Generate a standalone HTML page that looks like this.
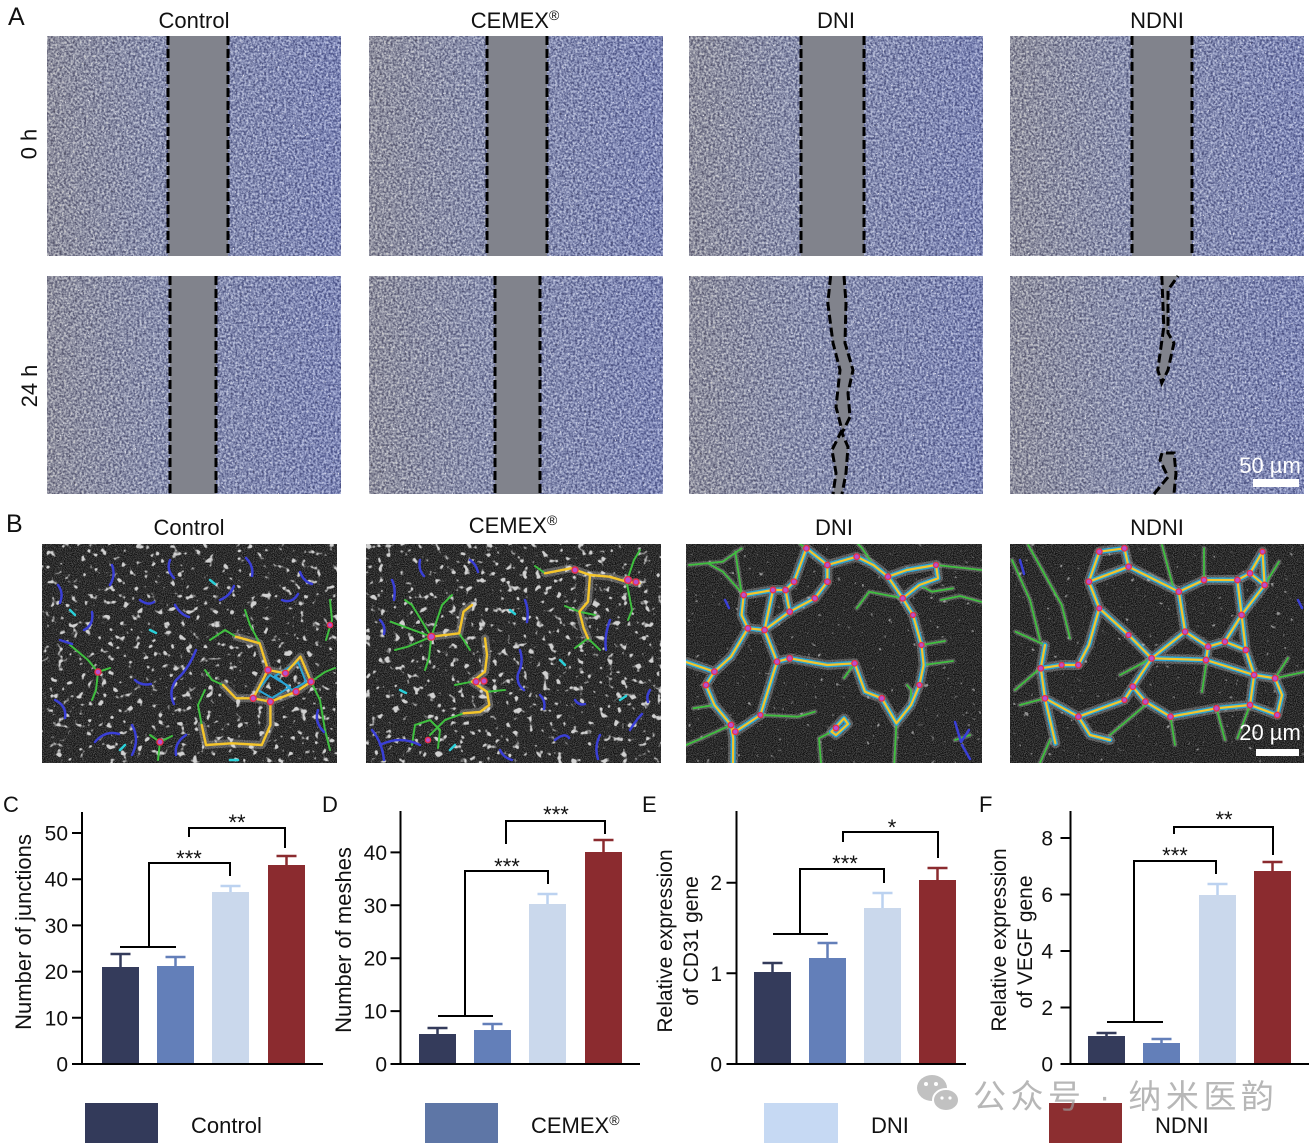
<!DOCTYPE html>
<html><head><meta charset="utf-8"><style>
html,body{margin:0;padding:0;background:#fff;}
svg{display:block;}
</style></head><body>
<svg width="1313" height="1148" viewBox="0 0 1313 1148" xmlns="http://www.w3.org/2000/svg" font-family="'Liberation Sans', Arial, sans-serif">
<defs>
 <linearGradient id="gA" x1="0" x2="1" y1="0" y2="0">
  <stop offset="0" stop-color="#a09b94"/><stop offset="0.4" stop-color="#969bb1"/><stop offset="1" stop-color="#838cbf"/>
 </linearGradient>
 <filter id="nA" x="0" y="0" width="1" height="1" color-interpolation-filters="sRGB">
  <feTurbulence type="fractalNoise" baseFrequency="0.45" numOctaves="2" seed="3"/>
  <feColorMatrix type="matrix" values="2.0 0 0 0 -0.55 2.0 0 0 0 -0.52 1.7 0 0 0 -0.2 0 0 0 0 0.45"/>
 </filter>
 <filter id="nA2" x="0" y="0" width="1" height="1" color-interpolation-filters="sRGB">
  <feTurbulence type="fractalNoise" baseFrequency="0.6" numOctaves="1" seed="9"/>
  <feColorMatrix type="matrix" values="0 0 0 0 0.95 0 0 0 0 0.95 0 0 0 0 0.97 7 0 0 0 -4.6"/>
 </filter>
 <filter id="grain" x="0" y="0" width="1" height="1" color-interpolation-filters="sRGB">
  <feTurbulence type="fractalNoise" baseFrequency="1.1" numOctaves="1" seed="5"/>
  <feColorMatrix type="matrix" values="1.3 0 0 0 -0.4 1.3 0 0 0 -0.4 1.3 0 0 0 -0.4 0 0 0 0 0.55"/>
 </filter>
 <filter id="blob1" x="0" y="0" width="1" height="1" color-interpolation-filters="sRGB">
  <feTurbulence type="fractalNoise" baseFrequency="0.14" numOctaves="2" seed="11"/>
  <feColorMatrix type="matrix" values="0 0 0 0 0.82 0 0 0 0 0.82 0 0 0 0 0.82 9 0 0 0 -5.65"/>
 </filter>
 <filter id="blob2" x="0" y="0" width="1" height="1" color-interpolation-filters="sRGB">
  <feTurbulence type="fractalNoise" baseFrequency="0.14" numOctaves="2" seed="23"/>
  <feColorMatrix type="matrix" values="0 0 0 0 0.82 0 0 0 0 0.82 0 0 0 0 0.82 9 0 0 0 -5.65"/>
 </filter>
 <filter id="blob3" x="0" y="0" width="1" height="1" color-interpolation-filters="sRGB">
  <feTurbulence type="fractalNoise" baseFrequency="0.17" numOctaves="2" seed="37"/>
  <feColorMatrix type="matrix" values="0 0 0 0 0.85 0 0 0 0 0.85 0 0 0 0 0.85 9 0 0 0 -6.6"/>
 </filter>

 <path id="dniY" d="M827.4,565 L856.7,556.7 L873.4,565 L888,576.7 L902.7,598.3 L913,615 L921.5,645 L923.6,665 L919.4,685 L911,705 L896.4,723.3
 M888,576.7 L906.9,570 L936,565 L938,578.3 L919.4,585 L902.7,598.3
 M785.5,590 L794,581.7 L806.4,548.3 L827.4,565 L827.4,581.7 L814.8,598.3 L789.7,611.7
 M785.5,590 L773,590 L743.7,595 L741.6,615 L747.9,628.3 L764.6,630 L789.7,611.7 L785.5,590
 M747.9,628.3 L731,656.7 L714.4,671.7 L706,685 L714.4,705 L731,725 L733.2,738.3 L733,763
 M764.6,630 L777,661.7 L789.7,658.3 L827.4,665 L854.6,663.3
 M777,661.7 L760.4,715 L735.3,731.7 L731,725
 M854.6,663.3 L865,691.7 L881.8,698.3 L896.4,723.3
 M714.4,671.7 L686,662 M773,590 L764.6,630
 M831.5,731.7 L844,718.3 L848,724 L836,735 Z"/>
 <path id="dniG" d="M743.7,595 L722.8,571.7 L708,563.3 M689,565 L722.8,561.7 L741.6,548.3 M735.3,551.7 L741.6,593.3
 M936,565 L982,570 M919.4,585 L932,591.7 L952.9,588.3 M902.7,598.3 L869.2,591.7 L856.7,608.3
 M921.5,645 L945,641 M923.6,665 L953,661 M896.4,723.3 L894.3,763 M911,705 L911,690 L907,685
 M854.6,663.3 L844,678 M831.5,731.7 L819,738.3 L821,763 M731,725 L701.8,738.3 L686,745
 M760.4,715 L798,716.7 L814.8,711.7 M714.4,705 L693.5,708.3 M873.4,565 L862,548 L858,544
 M806.4,548.3 L800,544 M941,600 L960,596 L982,602 M955,740 L970,735"/>

 <path id="ndY" d="M1099.3,551.7 L1124.4,548.3 L1128.6,566.7 L1088.9,581.7 Z
 M1088.9,581.7 L1099.3,608.3 L1128.6,635 L1151.6,658.3 L1132.8,686.7 L1145.4,701.7 L1170.5,716.7 L1216.5,708.3 L1250,705 L1277.2,715
 M1128.6,566.7 L1178.8,591.7 L1204,580 L1237.4,580 L1250,573.3 L1262.5,551.7 L1264.6,585 L1250,573.3
 M1264.6,585 L1241.6,615 L1237.4,580
 M1178.8,591.7 L1185.1,631.7 L1208.1,646.7 L1224.9,641.7 L1241.6,615 L1245.8,650 L1224.9,641.7
 M1245.8,650 L1254.1,675 L1275.1,678.3 L1282,695 L1277.2,715
 M1185.1,631.7 L1151.6,658.3 L1206,660 L1254.1,675 L1250,705
 M1208.1,646.7 L1206,660
 M1078.4,665 L1061.7,665 L1040.8,668.3 L1045,698.3 L1078.4,716.7 L1124.4,700 L1132.8,686.7
 M1078.4,665 L1088.9,645 L1099.3,608.3
 M1040.8,668.3 L1045,645 M1045,698.3 L1055.4,743.3 M1078.4,716.7 L1090,735 L1110,740"/>
 <path id="ndG" d="M1028.2,545 L1061.7,605 L1070,638.3 M1015.6,631.7 L1045,645 M1149.5,575 L1178.8,591.7
 M1162,545 L1174,590 M1204,548.3 L1204,580 M1279,561.7 L1264.6,585 M1206,665 L1202,692
 M1275.1,678.3 L1304,672 M1120,675 L1151.6,658.3 M1110,735 L1145.4,705 M1237.4,738.3 L1250,705
 M1288,658 L1275.1,678.3 M1020,705 L1045,698.3 M1012,560 L1030,600 L1040,640 M1040,668.3 L1015,690
 M1050,740 L1040,763 M1170.5,716.7 L1175,745 M1216.5,708.3 L1225,740"/>
</defs>

<!-- ================= Panel A ================= -->
<text x="8" y="25" font-size="25" fill="#111">A</text>
<text x="194" y="28" font-size="22" text-anchor="middle" fill="#111">Control</text>
<text x="515" y="28" font-size="22" text-anchor="middle" fill="#111">CEMEX<tspan font-size="14" dy="-8">®</tspan></text>
<text x="836" y="28" font-size="22" text-anchor="middle" fill="#111">DNI</text>
<text x="1157" y="28" font-size="22" text-anchor="middle" fill="#111">NDNI</text>
<text transform="translate(36.5,144) rotate(-90)" font-size="22" text-anchor="middle" fill="#111">0 h</text>
<text transform="translate(37,386) rotate(-90)" font-size="22" text-anchor="middle" fill="#111">24 h</text>

<g>
 <rect x="47" y="36" width="294" height="220" fill="url(#gA)"/><rect x="47" y="36" width="294" height="220" filter="url(#nA)"/><rect x="47" y="36" width="294" height="220" filter="url(#nA2)"/>
 <rect x="369" y="36" width="294" height="220" fill="url(#gA)"/><rect x="369" y="36" width="294" height="220" filter="url(#nA)"/><rect x="369" y="36" width="294" height="220" filter="url(#nA2)"/>
 <rect x="689" y="36" width="294" height="220" fill="url(#gA)"/><rect x="689" y="36" width="294" height="220" filter="url(#nA)"/><rect x="689" y="36" width="294" height="220" filter="url(#nA2)"/>
 <rect x="1010" y="36" width="294" height="220" fill="url(#gA)"/><rect x="1010" y="36" width="294" height="220" filter="url(#nA)"/><rect x="1010" y="36" width="294" height="220" filter="url(#nA2)"/>
 <rect x="47" y="276" width="294" height="218" fill="url(#gA)"/><rect x="47" y="276" width="294" height="218" filter="url(#nA)"/><rect x="47" y="276" width="294" height="218" filter="url(#nA2)"/>
 <rect x="369" y="276" width="294" height="218" fill="url(#gA)"/><rect x="369" y="276" width="294" height="218" filter="url(#nA)"/><rect x="369" y="276" width="294" height="218" filter="url(#nA2)"/>
 <rect x="689" y="276" width="294" height="218" fill="url(#gA)"/><rect x="689" y="276" width="294" height="218" filter="url(#nA)"/><rect x="689" y="276" width="294" height="218" filter="url(#nA2)"/>
 <rect x="1010" y="276" width="294" height="218" fill="url(#gA)"/><rect x="1010" y="276" width="294" height="218" filter="url(#nA)"/><rect x="1010" y="276" width="294" height="218" filter="url(#nA2)"/>
</g>
<g fill="#81838c">
 <rect x="168" y="36" width="60" height="220"/>
 <rect x="487" y="36" width="60" height="220"/>
 <rect x="801" y="36" width="63" height="220"/>
 <rect x="1132" y="36" width="60" height="220"/>
 <rect x="170" y="276" width="46" height="218"/>
 <rect x="495" y="276" width="45" height="218"/>
 <polygon points="830.6,276 827.8,303 833,343 840,370 836,407 842,430 832,450 836,473 833,494 842,494 846,473 848,447 842,433 850,417 848,393 853,370 845,343 846,303 844,276"/>
 <polygon points="1161.8,276 1163.8,327 1157.7,370 1161.8,383 1168,370 1174,343 1168,333 1168,290 1178,276"/>
 <polygon points="1162,453 1174,453 1176,473 1174,494 1154,494 1168,477 1160,460"/>
</g>
<g stroke="#000" stroke-width="3" stroke-dasharray="9 4" fill="none">
 <line x1="168" y1="36" x2="168" y2="256"/><line x1="228" y1="36" x2="228" y2="256"/>
 <line x1="487" y1="36" x2="487" y2="256"/><line x1="547" y1="36" x2="547" y2="256"/>
 <line x1="801" y1="36" x2="801" y2="256"/><line x1="864" y1="36" x2="864" y2="256"/>
 <line x1="1132" y1="36" x2="1132" y2="256"/><line x1="1192" y1="36" x2="1192" y2="256"/>
 <line x1="170" y1="276" x2="170" y2="494"/><line x1="216" y1="276" x2="216" y2="494"/>
 <line x1="495" y1="276" x2="495" y2="494"/><line x1="540" y1="276" x2="540" y2="494"/>
 <polyline points="830.6,276 827.8,303 833,343 840,370 836,407 842,430 832,450 836,473 833,494"/>
 <polyline points="844,276 846,303 845,343 853,370 848,393 850,417 842,433 848,447 846,473 842,494"/>
 <polyline points="1161.8,276 1163.8,327 1157.7,370 1161.8,383 1168,370 1174,343 1168,333 1168,290 1178,276"/>
 <polyline points="1154,494 1168,477 1160,460 1162,453 1174,453 1176,473 1174,494"/>
</g>
<text x="1270" y="473" font-size="22" text-anchor="middle" fill="#fff">50 µm</text>
<rect x="1253" y="479" width="46" height="8" fill="#fff"/>

<!-- ================= Panel B ================= -->
<text x="6" y="532" font-size="25" fill="#111">B</text>
<text x="189" y="535" font-size="22" text-anchor="middle" fill="#111">Control</text>
<text x="513" y="533" font-size="22" text-anchor="middle" fill="#111">CEMEX<tspan font-size="14" dy="-8">®</tspan></text>
<text x="834" y="535" font-size="22" text-anchor="middle" fill="#111">DNI</text>
<text x="1157" y="535" font-size="22" text-anchor="middle" fill="#111">NDNI</text>

<!-- Control B -->
<svg x="42" y="544" width="295" height="219" viewBox="42 544 295 219" overflow="hidden">
 <rect x="42" y="544" width="295" height="219" fill="#161616"/>
 <rect x="42" y="544" width="295" height="219" filter="url(#grain)"/>
 <rect x="42" y="544" width="295" height="219" filter="url(#blob1)"/>
 <g fill="none" stroke-linecap="round" stroke-linejoin="round">
  <path stroke="#ddd" stroke-opacity="0.3" stroke-width="8" d="M236,636.7 L259.7,643.3 L268,670 M268,670 L285.4,673.3 L300.4,656.7 L311,681.7 L296,691.7 L270.4,701.7 L253.2,698.3 L268,670 M270.4,701.7 L270.4,725 L261.8,745 L231.8,743.3 L206,745 L201.7,725 M253.2,698.3 L236,698.3 L223,685"/>
  <path stroke="#3fbf3f" stroke-width="2" d="M236,636.7 L225,630 L210,640 M259.7,643.3 L250,625 L245,610 M98,672 L88,660 L70,645 M98,672 L110,668 M98,672 L96,690 L92,700 M311,681.7 L325,672 L335,668 M311,681.7 L320,700 L325,730 L330,750 M201.7,725 L198,705 L205,690 M223,685 L212,680 L205,670 M160,742 L150,735 M160,742 L172,736 M160,742 L158,760 M330,600 L332,620 L326,640"/>
  <path stroke="#3a3fd6" stroke-width="2.5" d="M58,585 q6,8 2,18 M84,630 q10,-5 8,-18 M112,565 q4,10 -2,20 M140,600 q8,6 14,2 M175,605 q6,10 14,12 M196,650 q-8,20 -20,30 q-8,12 -2,24 M95,742 q10,-12 24,-8 M132,725 q8,14 0,30 M176,755 q-2,-12 10,-20 M246,558 q8,8 6,18 M300,572 q4,10 12,12 M55,700 q12,6 10,18 M282,600 q10,4 16,-6 M318,710 q-4,12 6,22 M135,680 q6,6 16,4 M220,600 q10,-4 14,-14 M170,560 q-4,10 4,18 M60,640 l12,4"/>
  <path stroke="#2bd0d8" stroke-width="2.5" d="M150,630 l6,3 M70,610 l5,5 M230,760 l8,0 M120,750 l5,-5 M210,580 l5,4"/>
  <path stroke="#2aa5d6" stroke-width="2" d="M275,676 L298,662 L306,682 L292,690 Z M258,690 L270,675 L290,687 L272,698 Z"/>
  <path stroke="#f5c52a" stroke-width="2.4" d="M236,636.7 L259.7,643.3 L268,670 M268,670 L285.4,673.3 L300.4,656.7 L311,681.7 L296,691.7 L270.4,701.7 L253.2,698.3 L268,670 M270.4,701.7 L270.4,725 L261.8,745 L231.8,743.3 L206,745 L201.7,725 M253.2,698.3 L236,698.3 L223,685"/>
 </g>
 <g fill="#b84fd0" stroke="#e8304a" stroke-width="1.4">
  <circle cx="268" cy="670" r="3"/><circle cx="285.4" cy="673.3" r="3"/><circle cx="296" cy="691.7" r="3"/><circle cx="270.4" cy="701.7" r="3"/><circle cx="253.2" cy="698.3" r="3"/><circle cx="311" cy="681.7" r="3"/><circle cx="98" cy="672" r="3"/><circle cx="160" cy="742" r="3"/><circle cx="330" cy="625" r="2.6"/>
 </g>
</svg>

<!-- CEMEX B -->
<svg x="366" y="544" width="295" height="219" viewBox="366 544 295 219" overflow="hidden">
 <rect x="366" y="544" width="295" height="219" fill="#161616"/>
 <rect x="366" y="544" width="295" height="219" filter="url(#grain)"/>
 <rect x="366" y="544" width="295" height="219" filter="url(#blob2)"/>
 <g fill="none" stroke-linecap="round" stroke-linejoin="round">
  <path stroke="#ddd" stroke-opacity="0.3" stroke-width="8" d="M545,573.3 L570.8,568.3 L590,575 L609.4,576.7 L626.6,581.7 L639.5,583.3 M590,575 L588,601.7 L579.4,611.7 L583.7,628.3 L588,638.3 M431.3,636.7 L459.2,633.3 L463.5,611.7 L472,605 M485,638.3 L487,655 L485,671.7 L472,681.7 L487,691.7 L489.3,705 L480,712 L463.5,713.3"/>
  <path stroke="#3fbf3f" stroke-width="2" d="M431.3,636.7 L407.7,646.7 L395,650 M431.3,636.7 L390.6,621.7 M431.3,636.7 L412,605 L405,600 M431.3,636.7 L442,605 L452,595 M431.3,636.7 L429,658 L425,670 M459.2,633.3 L470,650 M545,573.3 L535,566 M588,638.3 L600,650 M588,638.3 L575,648 M579.4,611.7 L565,606 M579.4,611.7 L595,615 M626.6,581.7 L634,560 L640,550 M626.6,581.7 L632,610 L628,620 M463.5,713.3 L445,720 L430,735 M472,681.7 L455,685 M487,691.7 L505,690 M412,745 L415,725 L430,720 L440,730 L438,748"/>
  <path stroke="#3a3fd6" stroke-width="2.5" d="M372,730 q10,12 12,30 M380,745 q20,-10 40,0 M392,580 q4,8 2,20 M380,620 q6,6 4,14 M520,650 q4,12 -2,24 q-2,10 6,16 M525,600 q4,10 2,22 M540,695 q6,6 4,14 M555,740 q10,-8 14,-2 M610,620 q-6,16 -4,30 M630,730 q6,-10 12,-16 M650,690 q-4,6 -2,12 M575,700 q4,6 10,4 M500,750 q4,8 12,10 M470,560 q6,4 8,12 M420,560 q-2,10 4,16 M600,735 q-6,12 -2,24"/>
  <path stroke="#2bd0d8" stroke-width="2.5" d="M400,690 l6,3 M560,660 l5,5 M620,700 l6,-4 M450,750 l5,-5 M510,610 l5,4"/>
  <path stroke="#f5c52a" stroke-width="2.4" d="M545,573.3 L570.8,568.3 L590,575 L609.4,576.7 L626.6,581.7 L639.5,583.3 M590,575 L588,601.7 L579.4,611.7 L583.7,628.3 L588,638.3 M431.3,636.7 L459.2,633.3 L463.5,611.7 L472,605 M485,638.3 L487,655 L485,671.7 L472,681.7 L487,691.7 L489.3,705 L480,712 L463.5,713.3"/>
 </g>
 <g fill="#b84fd0" stroke="#e8304a" stroke-width="1.4">
  <circle cx="431.3" cy="636.7" r="3.4"/><circle cx="575" cy="570" r="3"/><circle cx="628" cy="580" r="3.4"/><circle cx="636" cy="582" r="3"/><circle cx="476" cy="681.7" r="3"/><circle cx="484" cy="681" r="3"/><circle cx="428" cy="740" r="2.6"/>
 </g>
</svg>

<!-- DNI B -->
<svg x="686" y="544" width="296" height="219" viewBox="686 544 296 219" overflow="hidden">
 <rect x="686" y="544" width="296" height="219" fill="#141414"/>
 <rect x="686" y="544" width="296" height="219" filter="url(#grain)"/>
 <rect x="686" y="544" width="296" height="219" filter="url(#blob3)" opacity="0.6"/>
 <g fill="none" stroke-linecap="round" stroke-linejoin="round">
  <use href="#dniY" stroke="#e0e0e0" stroke-opacity="0.28" stroke-width="10"/>
  <use href="#dniG" stroke="#e0e0e0" stroke-opacity="0.25" stroke-width="5"/>
  <use href="#dniG" stroke="#3fbf3f" stroke-width="1.8"/>
  <use href="#dniY" stroke="#2aa5d6" stroke-width="5"/>
  <use href="#dniY" stroke="#f5c52a" stroke-width="2.2"/>
  <path stroke="#3a3fd6" stroke-width="2.5" d="M955,722 l6,20 l8,-12 M962,745 l8,14 M725,600 l4,8"/>
 </g>
 <g fill="#b84fd0" stroke="#e8304a" stroke-width="1.3">
  <circle cx="827.4" cy="565" r="2.8"/><circle cx="856.7" cy="556.7" r="2.8"/><circle cx="888" cy="576.7" r="2.8"/><circle cx="902.7" cy="598.3" r="2.8"/><circle cx="785.5" cy="590" r="2.8"/><circle cx="794" cy="581.7" r="2.8"/><circle cx="806.4" cy="548.3" r="2.8"/><circle cx="827.4" cy="581.7" r="2.8"/><circle cx="814.8" cy="598.3" r="2.8"/><circle cx="789.7" cy="611.7" r="2.8"/><circle cx="773" cy="590" r="2.8"/><circle cx="743.7" cy="595" r="2.8"/><circle cx="747.9" cy="628.3" r="2.8"/><circle cx="764.6" cy="630" r="2.8"/><circle cx="714.4" cy="671.7" r="2.8"/><circle cx="706" cy="685" r="2.8"/><circle cx="731" cy="725" r="2.8"/><circle cx="777" cy="661.7" r="2.8"/><circle cx="789.7" cy="658.3" r="2.8"/><circle cx="854.6" cy="663.3" r="2.8"/><circle cx="881.8" cy="698.3" r="2.8"/><circle cx="913" cy="615" r="2.5"/><circle cx="921.5" cy="645" r="2.5"/><circle cx="919.4" cy="685" r="2.5"/><circle cx="836" cy="728" r="2.8"/><circle cx="735.3" cy="731.7" r="2.8"/><circle cx="760.4" cy="715" r="2.5"/><circle cx="936" cy="565" r="2.5"/>
 </g>
</svg>

<!-- NDNI B -->
<svg x="1010" y="544" width="294" height="219" viewBox="1010 544 294 219" overflow="hidden">
 <rect x="1010" y="544" width="294" height="219" fill="#141414"/>
 <rect x="1010" y="544" width="294" height="219" filter="url(#grain)"/>
 <rect x="1010" y="544" width="294" height="219" filter="url(#blob3)" opacity="0.6"/>
 <g fill="none" stroke-linecap="round" stroke-linejoin="round">
  <use href="#ndY" stroke="#e0e0e0" stroke-opacity="0.28" stroke-width="10"/>
  <use href="#ndG" stroke="#e0e0e0" stroke-opacity="0.25" stroke-width="5"/>
  <use href="#ndG" stroke="#3fbf3f" stroke-width="1.8"/>
  <use href="#ndY" stroke="#2aa5d6" stroke-width="5"/>
  <use href="#ndY" stroke="#f5c52a" stroke-width="2.2"/>
  <path stroke="#3a3fd6" stroke-width="2.5" d="M1020,560 l4,14 M1298,600 l4,8"/>
 </g>
 <g fill="#b84fd0" stroke="#e8304a" stroke-width="1.3">
  <circle cx="1099.3" cy="551.7" r="2.8"/><circle cx="1124.4" cy="548.3" r="2.8"/><circle cx="1128.6" cy="566.7" r="2.8"/><circle cx="1088.9" cy="581.7" r="2.8"/><circle cx="1178.8" cy="591.7" r="2.8"/><circle cx="1204" cy="580" r="2.8"/><circle cx="1237.4" cy="580" r="2.8"/><circle cx="1250" cy="573.3" r="2.8"/><circle cx="1262.5" cy="551.7" r="2.5"/><circle cx="1264.6" cy="585" r="2.8"/><circle cx="1241.6" cy="615" r="2.8"/><circle cx="1185.1" cy="631.7" r="2.8"/><circle cx="1208.1" cy="646.7" r="2.8"/><circle cx="1224.9" cy="641.7" r="2.8"/><circle cx="1245.8" cy="650" r="2.8"/><circle cx="1151.6" cy="658.3" r="2.8"/><circle cx="1206" cy="660" r="2.8"/><circle cx="1254.1" cy="675" r="2.8"/><circle cx="1275.1" cy="678.3" r="2.8"/><circle cx="1132.8" cy="686.7" r="2.8"/><circle cx="1145.4" cy="701.7" r="2.8"/><circle cx="1170.5" cy="716.7" r="2.8"/><circle cx="1216.5" cy="708.3" r="2.8"/><circle cx="1250" cy="705" r="2.8"/><circle cx="1277.2" cy="715" r="2.8"/><circle cx="1099.3" cy="608.3" r="2.5"/><circle cx="1128.6" cy="635" r="2.5"/><circle cx="1078.4" cy="665" r="2.8"/><circle cx="1061.7" cy="665" r="2.5"/><circle cx="1040.8" cy="668.3" r="2.8"/><circle cx="1045" cy="698.3" r="2.8"/><circle cx="1078.4" cy="716.7" r="2.8"/><circle cx="1124.4" cy="700" r="2.5"/>
 </g>
 <text x="1270" y="740" font-size="22" text-anchor="middle" fill="#fff">20 µm</text>
 <rect x="1256" y="749" width="43" height="7" fill="#fff"/>
</svg>

<!-- ================= Charts ================= -->
<g font-size="22" fill="#111">
 <text x="3" y="812">C</text>
 <text x="322" y="812">D</text>
 <text x="642" y="812">E</text>
 <text x="979" y="812">F</text>
</g>

<!-- Chart C -->
<g>
 <rect x="102" y="967" width="37" height="97" fill="#343b5b"/>
 <rect x="157" y="966" width="37" height="98" fill="#637fb9"/>
 <rect x="212" y="892" width="37" height="172" fill="#cad8ec"/>
 <rect x="268" y="865" width="37" height="199" fill="#8b2b2f"/>
 <g stroke-width="2.5" fill="none">
  <path stroke="#343b5b" d="M120.5,967 V954 M110.5,954 H130.5"/>
  <path stroke="#637fb9" d="M175.5,966 V957 M165.5,957 H185.5"/>
  <path stroke="#bcd2f0" d="M230.5,892 V886 M220.5,886 H240.5"/>
  <path stroke="#8b2b2f" d="M286.5,865 V856 M276.5,856 H296.5"/>
 </g>
 <g stroke="#000" stroke-width="2" fill="none">
  <path d="M82,812 V1065 M81,1064 H323"/>
  <path d="M72,1064 H82 M72,1017.8 H82 M72,971.6 H82 M72,925.4 H82 M72,879.2 H82 M72,833 H82"/>
  <path d="M120,947 H176 M149,947 V863 H230 V876"/>
  <path d="M189,837 V828 H285 V848"/>
 </g>
 <g font-size="21" text-anchor="end" fill="#111">
  <text x="68" y="1071.5">0</text><text x="68" y="1025.3">10</text><text x="68" y="979.1">20</text><text x="68" y="932.9">30</text><text x="68" y="886.7">40</text><text x="68" y="840.5">50</text>
 </g>
 <g font-size="22" text-anchor="middle" fill="#111">
  <text x="189" y="866">***</text><text x="237" y="830">**</text>
 </g>
 <text transform="translate(31,932) rotate(-90)" font-size="22" text-anchor="middle" fill="#111">Number of junctions</text>
</g>

<!-- Chart D -->
<g>
 <rect x="419" y="1034" width="37" height="30" fill="#343b5b"/>
 <rect x="474" y="1030" width="37" height="34" fill="#637fb9"/>
 <rect x="529" y="904" width="37" height="160" fill="#cad8ec"/>
 <rect x="585" y="852" width="37" height="212" fill="#8b2b2f"/>
 <g stroke-width="2.5" fill="none">
  <path stroke="#343b5b" d="M437.5,1034 V1028 M427.5,1028 H447.5"/>
  <path stroke="#637fb9" d="M492.5,1030 V1024 M482.5,1024 H502.5"/>
  <path stroke="#bcd2f0" d="M547.5,904 V894 M537.5,894 H557.5"/>
  <path stroke="#8b2b2f" d="M603.5,852 V840 M593.5,840 H613.5"/>
 </g>
 <g stroke="#000" stroke-width="2" fill="none">
  <path d="M400.5,811 V1065 M399.5,1064 H640"/>
  <path d="M390.5,1064 H400.5 M390.5,1011.1 H400.5 M390.5,958.2 H400.5 M390.5,905.3 H400.5 M390.5,852.4 H400.5"/>
  <path d="M438,1016 H493 M465,1016 V871 H548 V884"/>
  <path d="M506,844 V821 H605 V834"/>
 </g>
 <g font-size="21" text-anchor="end" fill="#111">
  <text x="387" y="1071.5">0</text><text x="387" y="1018.6">10</text><text x="387" y="965.7">20</text><text x="387" y="912.8">30</text><text x="387" y="859.9">40</text>
 </g>
 <g font-size="22" text-anchor="middle" fill="#111">
  <text x="507" y="874">***</text><text x="556" y="822">***</text>
 </g>
 <text transform="translate(351,940) rotate(-90)" font-size="22" text-anchor="middle" fill="#111">Number of meshes</text>
</g>

<!-- Chart E -->
<g>
 <rect x="754" y="972" width="37" height="92" fill="#343b5b"/>
 <rect x="809" y="958" width="37" height="106" fill="#637fb9"/>
 <rect x="864" y="908" width="37" height="156" fill="#cad8ec"/>
 <rect x="919" y="880" width="37" height="184" fill="#8b2b2f"/>
 <g stroke-width="2.5" fill="none">
  <path stroke="#343b5b" d="M772.5,972 V963 M762.5,963 H782.5"/>
  <path stroke="#637fb9" d="M827.5,958 V943 M817.5,943 H837.5"/>
  <path stroke="#bcd2f0" d="M882.5,908 V893 M872.5,893 H892.5"/>
  <path stroke="#8b2b2f" d="M937.5,880 V868 M927.5,868 H947.5"/>
 </g>
 <g stroke="#000" stroke-width="2" fill="none">
  <path d="M736.5,811 V1065 M735.5,1064 H966"/>
  <path d="M726.5,1064 H736.5 M726.5,973.3 H736.5 M726.5,882.7 H736.5"/>
  <path d="M773,934 H828 M800,934 V869 H884 V883"/>
  <path d="M843,842 V832 H938 V858"/>
 </g>
 <g font-size="21" text-anchor="end" fill="#111">
  <text x="722" y="1071.5">0</text><text x="722" y="980.8">1</text><text x="722" y="890.2">2</text>
 </g>
 <g font-size="22" text-anchor="middle" fill="#111">
  <text x="845" y="871">***</text><text x="892" y="835">*</text>
 </g>
 <text transform="translate(672,941) rotate(-90)" font-size="21" text-anchor="middle" fill="#111">Relative expression</text>
 <text transform="translate(698,941) rotate(-90)" font-size="21" text-anchor="middle" fill="#111">of CD31 gene</text>
</g>

<!-- Chart F -->
<g>
 <rect x="1088" y="1036" width="37" height="28" fill="#343b5b"/>
 <rect x="1143" y="1043" width="37" height="21" fill="#637fb9"/>
 <rect x="1199" y="895" width="37" height="169" fill="#cad8ec"/>
 <rect x="1254" y="871" width="37" height="193" fill="#8b2b2f"/>
 <g stroke-width="2.5" fill="none">
  <path stroke="#343b5b" d="M1106.5,1036 V1033 M1096.5,1033 H1116.5"/>
  <path stroke="#637fb9" d="M1161.5,1043 V1039 M1151.5,1039 H1171.5"/>
  <path stroke="#bcd2f0" d="M1217.5,895 V884 M1207.5,884 H1227.5"/>
  <path stroke="#8b2b2f" d="M1272.5,871 V862 M1262.5,862 H1282.5"/>
 </g>
 <g stroke="#000" stroke-width="2" fill="none">
  <path d="M1070.5,811 V1065 M1069.5,1064 H1309"/>
  <path d="M1060.5,1064 H1070.5 M1060.5,1007.5 H1070.5 M1060.5,951 H1070.5 M1060.5,894.5 H1070.5 M1060.5,838 H1070.5"/>
  <path d="M1107,1022 H1163 M1134,1022 V861 H1216 V874"/>
  <path d="M1174,834 V827 H1273 V855"/>
 </g>
 <g font-size="21" text-anchor="end" fill="#111">
  <text x="1053" y="1071.5">0</text><text x="1053" y="1015">2</text><text x="1053" y="958.5">4</text><text x="1053" y="902">6</text><text x="1053" y="845.5">8</text>
 </g>
 <g font-size="22" text-anchor="middle" fill="#111">
  <text x="1175" y="863">***</text><text x="1224" y="827">**</text>
 </g>
 <text transform="translate(1006,940) rotate(-90)" font-size="21" text-anchor="middle" fill="#111">Relative expression</text>
 <text transform="translate(1032,942) rotate(-90)" font-size="21" text-anchor="middle" fill="#111">of VEGF gene</text>
</g>

<!-- Legend -->
<g>
 <rect x="85" y="1103" width="73" height="40" fill="#333a5a"/>
 <rect x="425" y="1103" width="73" height="40" fill="#5e76a6"/>
 <rect x="764" y="1103" width="74" height="40" fill="#c6d9f3"/>
 <rect x="1049" y="1103" width="73" height="40" fill="#8c2e30"/>
 <g font-size="22" fill="#111">
  <text x="191" y="1133">Control</text>
  <text x="531" y="1133">CEMEX<tspan font-size="14" dy="-8">®</tspan></text>
  <text x="871" y="1133">DNI</text>
  <text x="1155" y="1133">NDNI</text>
 </g>
</g>

<!-- Watermark -->
<g opacity="0.7">
 <ellipse cx="932" cy="1088" rx="15" ry="13" fill="#a8a8a8"/>
 <ellipse cx="946" cy="1100" rx="13" ry="11" fill="#a8a8a8" stroke="#fff" stroke-width="2"/>
 <circle cx="926" cy="1084" r="2" fill="#fff"/><circle cx="936" cy="1084" r="2" fill="#fff"/>
 <circle cx="942" cy="1098" r="1.6" fill="#fff"/><circle cx="950" cy="1098" r="1.6" fill="#fff"/>
 <text x="973" y="1108" font-size="33" letter-spacing="4.5" fill="#9a9a9a" font-family="'Liberation Sans','Noto Sans CJK SC',sans-serif">公众号 · 纳米医韵</text>
</g>
</svg>
</body></html>
